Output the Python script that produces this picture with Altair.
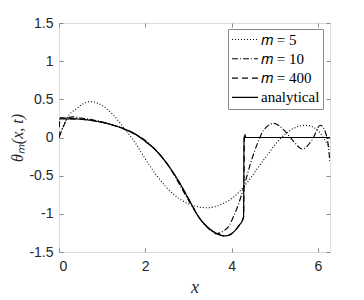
import altair as alt
import pandas as pd

# ---- data ----
x_m5 = [0, 0.18, 0.41, 0.72, 1.0, 1.25, 1.5, 1.78, 2.0, 2.28, 2.67, 3.05, 3.44, 3.82, 4.05, 4.29, 4.75, 5.14, 5.52, 5.72, 5.99, 6.22, 6.2832]
y_m5 = [0, 0.25, 0.38, 0.47, 0.42, 0.30, 0.13, -0.08, -0.28, -0.51, -0.75, -0.88, -0.92, -0.86, -0.78, -0.64, -0.29, -0.01, 0.14, 0.16, 0.10, -0.08, -0.12]

x_m10 = [0, 0.1, 0.22, 0.33, 0.5, 0.8, 1.1, 1.5, 2.0, 2.5, 3.0, 3.3, 3.5, 3.65, 3.8, 3.95, 4.05, 4.17, 4.29, 4.44, 4.6, 4.75, 4.98, 5.21, 5.41, 5.64, 5.87, 6.06, 6.21, 6.2832]
y_m10 = [0, 0.14, 0.26, 0.27, 0.255, 0.23, 0.19, 0.11, -0.04, -0.34, -0.82, -1.09, -1.21, -1.26, -1.23, -1.15, -1.03, -0.86, -0.64, -0.34, -0.08, 0.10, 0.185, 0.10, -0.03, -0.15, -0.03, 0.16, 0.01, -0.33]

x_m400 = [0, 0.02, 0.3, 0.6, 0.9, 1.2, 1.5, 1.75, 2.0, 2.25, 2.5, 2.75, 3.0, 3.25, 3.5, 3.7, 3.85, 4.0, 4.15, 4.28, 4.29, 4.30, 4.33, 6.2832]
y_m400 = [0, 0.26, 0.245, 0.235, 0.21, 0.17, 0.115, 0.05, -0.05, -0.17, -0.34, -0.55, -0.80, -1.05, -1.20, -1.27, -1.29, -1.26, -1.17, -1.04, -0.45, 0.06, 0.0, 0.0]

x_an = [0, 0.3, 0.6, 0.9, 1.2, 1.5, 1.75, 2.0, 2.25, 2.5, 2.75, 3.0, 3.25, 3.5, 3.7, 3.85, 4.0, 4.15, 4.28, 4.2901, 6.2832]
y_an = [0.245, 0.245, 0.235, 0.21, 0.17, 0.115, 0.05, -0.05, -0.17, -0.34, -0.55, -0.80, -1.05, -1.20, -1.27, -1.29, -1.26, -1.17, -1.04, 0.0, 0.0]

series = ["𝑚 = 5", "𝑚 = 10", "𝑚 = 400", "analytical"]
x_ticks = [0, 2, 4, 6]
y_ticks = [-1.5, -1, -0.5, 0, 0.5, 1, 1.5]

rows = []
for name, xs, ys in zip(series, [x_m5, x_m10, x_m400, x_an], [y_m5, y_m10, y_m400, y_an]):
    for i, (a, b) in enumerate(zip(xs, ys)):
        rows.append({"series": name, "x": a, "y": b, "i": i})
df = pd.DataFrame(rows)

TXT = "#262626"
FRAME = "#8a8a8a"
SERIF = "Liberation Serif, Times New Roman, serif"
xscale = alt.Scale(domain=[0, 6.2832], nice=False, zero=False)
yscale = alt.Scale(domain=[-1.5, 1.5], nice=False, zero=False)

lines = alt.Chart(df).mark_line(interpolate="monotone", color="black", clip=True).encode(
    x=alt.X("x:Q", scale=xscale, axis=alt.Axis(
        values=x_ticks, title="x", titleFont=SERIF, titleFontStyle="italic",
        titleFontSize=18, titleFontWeight="normal", titleColor=TXT, titlePadding=5,
        labelFont="Liberation Sans", labelFontSize=14, labelColor=TXT, labelPadding=7,
        domain=False, ticks=True, tickSize=4, tickColor=FRAME, offset=-4, grid=False,
        labelExpr="'' + datum.value")),
    y=alt.Y("y:Q", scale=yscale, axis=alt.Axis(
        values=y_ticks, title="θₘ(x, t)", titleFont=SERIF, titleFontStyle="italic",
        titleFontSize=16, titleFontWeight="normal", titleColor=TXT, titlePadding=3,
        labelFont="Liberation Sans", labelFontSize=14, labelColor=TXT, labelPadding=6,
        domain=False, ticks=True, tickSize=4, tickColor=FRAME, offset=-4, grid=False,
        labelExpr="'' + datum.value")),
    strokeDash=alt.StrokeDash("series:N", scale=alt.Scale(
        domain=series, range=[[1, 2], [6, 2, 1, 2], [6, 4], [1, 0]]),
        legend=alt.Legend(title=None, orient="none", legendX=169, legendY=6,
                          labelFont=SERIF, labelFontSize=15, labelColor="black",
                          symbolType="M-1,0H3", symbolSize=170, symbolStrokeColor="black",
                          symbolStrokeWidth=1.1, labelOffset=15, rowPadding=3.3,
                          padding=3, strokeColor=FRAME, fillColor="white")),
    strokeWidth=alt.StrokeWidth("series:N", scale=alt.Scale(
        domain=series, range=[1.1, 1.2, 1.2, 1.5]), legend=None),
    order="i:Q",
)

mirror = alt.Chart(df).mark_point(opacity=0).encode(
    x=alt.X("x:Q", scale=xscale, axis=alt.Axis(
        orient="top", values=x_ticks, labels=False, title=None, domain=False,
        tickSize=4, tickColor=FRAME, offset=-4, grid=False)),
    y=alt.Y("y:Q", scale=yscale, axis=alt.Axis(
        orient="right", values=y_ticks, labels=False, title=None, domain=False,
        tickSize=4, tickColor=FRAME, offset=-4, grid=False)),
)

chart = alt.layer(lines, mirror).resolve_axis(x="independent", y="independent").properties(
    width=271, height=229,
    autosize=alt.AutoSizeParams(type="none"),
    padding={"left": 51, "top": 15, "right": 20, "bottom": 52},
).configure_view(stroke=FRAME, strokeWidth=1).configure(background="white")

chart.save("out.html", embed_options={"renderer": "svg", "actions": False})
